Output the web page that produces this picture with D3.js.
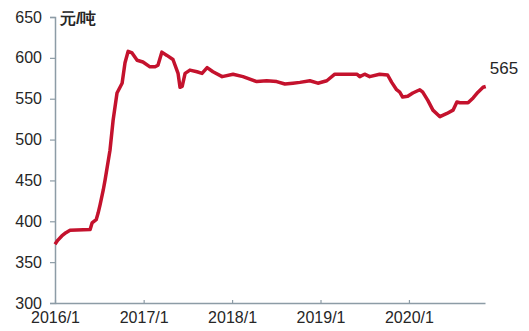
<!DOCTYPE html>
<html>
<head>
<meta charset="utf-8">
<script src="https://cdn.jsdelivr.net/npm/d3@7"></script>
<style>
    body { margin: 0; background: white; }
    text { font-family: "Liberation Sans", Arial, sans-serif; }
</style>
</head>
<body>
<script>
// dates and prices
const dates = [
    "2016-01-01", "2016-01-13", "2016-01-29", "2016-02-15", "2016-03-03", "2016-05-25",
    "2016-06-02", "2016-06-19", "2016-06-27", "2016-07-05", "2016-07-18", "2016-07-26",
    "2016-08-15", "2016-08-28", "2016-09-13", "2016-10-04", "2016-10-16", "2016-10-29",
    "2016-11-14", "2016-12-05", "2016-12-29", "2017-01-27", "2017-02-17", "2017-03-01",
    "2017-03-17", "2017-04-07", "2017-05-02", "2017-05-23", "2017-05-31", "2017-06-09",
    "2017-06-21", "2017-07-11", "2017-08-09", "2017-08-30", "2017-09-20", "2017-10-14",
    "2017-11-21", "2018-01-05", "2018-02-15", "2018-04-13", "2018-05-24", "2018-07-04",
    "2018-08-07", "2018-09-09", "2018-10-08", "2018-11-18", "2018-12-21", "2019-01-27",
    "2019-03-01", "2019-05-31", "2019-06-12", "2019-07-02", "2019-07-23", "2019-09-02",
    "2019-10-05", "2019-10-22", "2019-11-11", "2019-11-24", "2019-12-06", "2019-12-27",
    "2020-01-17", "2020-02-15", "2020-02-27", "2020-03-19", "2020-04-09", "2020-05-08",
    "2020-06-06", "2020-07-01", "2020-07-17", "2020-07-30", "2020-09-01", "2020-09-22",
    "2020-10-12", "2020-11-02", "2020-11-13",
]

const prices = [
    372, 377, 382, 386, 389, 390,
    398, 402, 410, 420, 438, 451,
    487, 524, 557, 569, 594, 608,
    606, 597, 595, 589, 589, 591,
    607, 603, 598, 581, 564, 565,
    581, 585, 583, 581, 588, 583,
    577, 580, 577, 571, 572, 571,
    568, 569, 570, 572, 569, 572,
    580, 580, 577, 580, 577, 580,
    579, 570, 561, 558, 552, 553,
    557, 561, 558, 548, 536, 528,
    532, 536, 546, 545, 545, 551,
    558, 564, 565,
]

const yTicks = [300, 350, 400, 450, 500, 550, 600, 650]
const xTicks = ["2016-01-01", "2017-01-01", "2018-01-01", "2019-01-01", "2020-01-01"]
const unit = "元/吨"
const lastLabel = "565"

function setCanvas(w, h) {
    return d3.select("body")
        .append("svg")
            .attr("width", w)
            .attr("height", h)
}

function draw() {
    const w = 529, h = 331
    const c = {
        axis: "#8d9ca6",
        text: "#262626",
        red:  "#c4122d",
    }
    const m = {left: 55, right: 485, top: 17, bottom: 303}
    const parse = d3.timeParse("%Y-%m-%d")
    const data = dates.map((d, i) => ({date: parse(d), value: prices[i]}))

    const x = d3.scaleTime()
        .domain([parse("2016-01-01"), parse("2020-11-10")])
        .range([m.left, m.right])
    const y = d3.scaleLinear()
        .domain([300, 650])
        .range([m.bottom, m.top])

    const svg = setCanvas(w, h)

    // y axis
    const gy = svg.append("g")
        .attr("transform", `translate(${m.left},0)`)
        .call(d3.axisLeft(y).tickValues(yTicks).tickSize(5).tickPadding(8))
    gy.select(".domain").attr("stroke", c.axis).attr("stroke-width", 1.5)
    gy.selectAll(".tick line").attr("stroke", c.axis).attr("stroke-width", 1.2)
    gy.selectAll("text")
        .attr("fill", c.text)
        .style("font-size", "16px")

    // x axis
    const gx = svg.append("g")
        .attr("transform", `translate(0,${m.bottom})`)
        .call(d3.axisBottom(x)
            .tickValues(xTicks.map(parse))
            .tickFormat(d3.timeFormat("%Y/%-m"))
            .tickSizeInner(-3)
            .tickSizeOuter(0)
            .tickPadding(9))
    gx.select(".domain").attr("stroke", c.axis).attr("stroke-width", 1.5)
    gx.selectAll(".tick line").attr("stroke", c.axis).attr("stroke-width", 1.2)
    gx.selectAll("text")
        .attr("fill", c.text)
        .style("font-size", "16px")

    // unit
    svg.append("text")
        .attr("x", m.left + 5)
        .attr("y", m.top + 7)
        .attr("fill", c.text)
        .style("font-size", "16px")
        .style("font-weight", "bold")
        .text(unit)

    // price line
    svg.append("path")
        .datum(data)
        .attr("fill", "none")
        .attr("stroke", c.red)
        .attr("stroke-width", 3.5)
        .attr("stroke-linejoin", "round")
        .attr("d", d3.line()
            .x(d => x(d.date))
            .y(d => y(d.value)))

    const last = data[data.length - 1]
    svg.append("text")
        .attr("x", x(last.date) + 4)
        .attr("y", y(last.value) - 12)
        .attr("fill", c.text)
        .style("font-size", "17px")
        .text(lastLabel)
}

draw()
</script>
</body>
</html>
